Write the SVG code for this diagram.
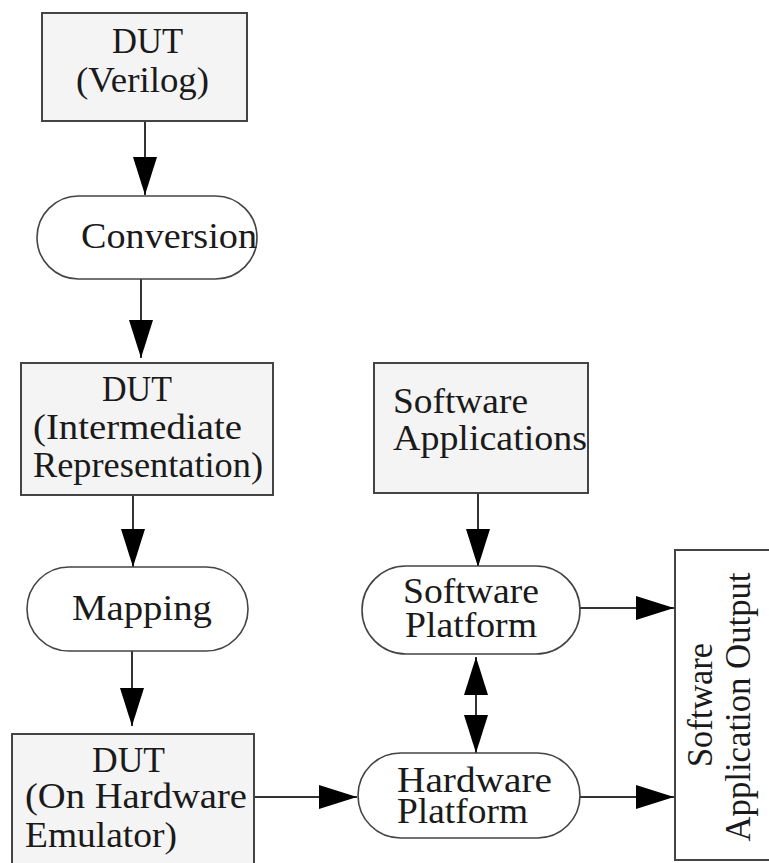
<svg xmlns="http://www.w3.org/2000/svg" width="769" height="863" viewBox="0 0 769 863">
<defs>
<style>
.box{fill:#f4f4f4;stroke:#444;stroke-width:2}
.pill{fill:#fff;stroke:#444;stroke-width:1.6}
.out{fill:#fff;stroke:#444;stroke-width:2}
.t{font-family:"Liberation Serif","Times New Roman",serif;font-size:35px;fill:#1a1a1a}
.ln{stroke:#333;stroke-width:2;fill:none}
.ah{fill:#000}
</style>
<marker id="arr" markerWidth="38" markerHeight="24" refX="38" refY="12" orient="auto" markerUnits="userSpaceOnUse">
<path d="M0,0 L38,12 L0,24 Z" fill="#000"/>
</marker>
<marker id="arrs" markerWidth="38" markerHeight="24" refX="0" refY="12" orient="auto" markerUnits="userSpaceOnUse">
<path d="M38,0 L0,12 L38,24 Z" fill="#000"/>
</marker>
</defs>
<rect width="769" height="863" fill="#fff"/>

<g id="connectors">
<line class="ln" x1="145" y1="121" x2="145" y2="195" marker-end="url(#arr)"/>
<line class="ln" x1="141" y1="279" x2="141" y2="358" marker-end="url(#arr)"/>
<line class="ln" x1="133" y1="495" x2="133" y2="567" marker-end="url(#arr)"/>
<line class="ln" x1="132" y1="651" x2="132" y2="726" marker-end="url(#arr)"/>
<line class="ln" x1="254" y1="797" x2="357" y2="797" marker-end="url(#arr)"/>
<line class="ln" x1="478" y1="493" x2="478" y2="567" marker-end="url(#arr)"/>
<line class="ln" x1="476" y1="657" x2="476" y2="753" marker-start="url(#arrs)" marker-end="url(#arr)"/>
<line class="ln" x1="580" y1="608" x2="674" y2="608" marker-end="url(#arr)"/>
<line class="ln" x1="580" y1="797" x2="674" y2="797" marker-end="url(#arr)"/>
</g>

<g id="dut-verilog">
<rect class="box" x="42" y="13" width="205" height="108"/>
<text class="t" x="112" y="53" textLength="71" lengthAdjust="spacingAndGlyphs">DUT</text>
<text class="t" x="76" y="92" textLength="133" lengthAdjust="spacingAndGlyphs">(Verilog)</text>
</g>

<g id="conversion">
<rect class="pill" x="37" y="196" width="220" height="83" rx="41.5" ry="41.5"/>
<text class="t" x="81" y="248" textLength="176" lengthAdjust="spacingAndGlyphs">Conversion</text>
</g>

<g id="dut-ir">
<rect class="box" x="21" y="363" width="252" height="132"/>
<text class="t" x="102" y="401" textLength="70" lengthAdjust="spacingAndGlyphs">DUT</text>
<text class="t" x="33" y="439" textLength="209" lengthAdjust="spacingAndGlyphs">(Intermediate</text>
<text class="t" x="33" y="477" textLength="230" lengthAdjust="spacingAndGlyphs">Representation)</text>
</g>

<g id="mapping">
<rect class="pill" x="27" y="567" width="221" height="84" rx="42" ry="42"/>
<text class="t" x="72" y="620" textLength="140" lengthAdjust="spacingAndGlyphs">Mapping</text>
</g>

<g id="dut-hw">
<rect class="box" x="12" y="734" width="242" height="140"/>
<text class="t" x="92" y="772" textLength="73" lengthAdjust="spacingAndGlyphs">DUT</text>
<text class="t" x="25" y="808" textLength="222" lengthAdjust="spacingAndGlyphs">(On Hardware</text>
<text class="t" x="25" y="847" textLength="152" lengthAdjust="spacingAndGlyphs">Emulator)</text>
</g>

<g id="sw-apps">
<rect class="box" x="374" y="363" width="214" height="130"/>
<text class="t" x="393" y="413" textLength="135" lengthAdjust="spacingAndGlyphs">Software</text>
<text class="t" x="393" y="450" textLength="194" lengthAdjust="spacingAndGlyphs">Applications</text>
</g>

<g id="sw-platform">
<rect class="pill" x="362" y="566" width="218" height="88" rx="44" ry="44"/>
<text class="t" x="403" y="603" textLength="136" lengthAdjust="spacingAndGlyphs">Software</text>
<text class="t" x="405" y="637" textLength="132" lengthAdjust="spacingAndGlyphs">Platform</text>
</g>

<g id="hw-platform">
<rect class="pill" x="358" y="753" width="222" height="85" rx="42.5" ry="42.5"/>
<text class="t" x="397" y="792" textLength="155" lengthAdjust="spacingAndGlyphs">Hardware</text>
<text class="t" x="397" y="823" textLength="131" lengthAdjust="spacingAndGlyphs">Platform</text>
</g>

<g id="sw-output">
<rect class="out" x="675" y="550" width="97" height="310"/>
<text class="t" transform="translate(712,705) rotate(-90)" x="0" y="0" text-anchor="middle" textLength="124" lengthAdjust="spacingAndGlyphs">Software</text>
<text class="t" transform="translate(750,707) rotate(-90)" x="0" y="0" text-anchor="middle" textLength="269" lengthAdjust="spacingAndGlyphs">Application Output</text>
</g>
</svg>
